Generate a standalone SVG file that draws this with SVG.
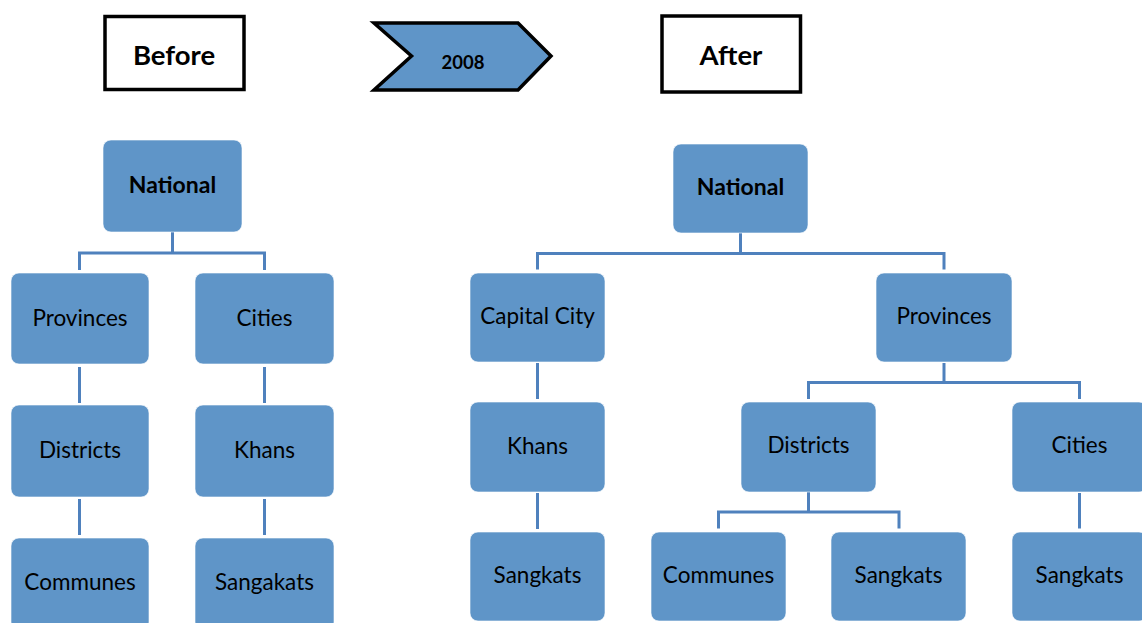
<svg xmlns="http://www.w3.org/2000/svg" width="1142" height="623" viewBox="0 0 1142 623">
  <style>
    .node { fill: #5f95c8; stroke: #ffffff; stroke-opacity: 0.6; stroke-width: 1; }
    .lbl { font-family: Lato, "Open Sans", "Liberation Sans", sans-serif; font-size: 22.5px; fill: #000000; text-anchor: middle; }
    .bold { font-weight: bold; font-size: 23px; }
    .frame { fill: #ffffff; stroke: #000000; stroke-width: 3.5; }
    .head { font-family: Lato, "Open Sans", "Liberation Sans", sans-serif; font-size: 27.5px; font-weight: bold; fill: #000000; text-anchor: middle; }
    .conn { fill: none; stroke: #4f81bd; stroke-width: 3; }
  </style>

  <!-- headings -->
  <g id="before">
    <rect class="frame" x="105" y="16.5" width="139" height="73"/>
    <text class="head" x="174" y="65">Before</text>
  </g>
  <g id="year">
    <polygon points="374,23 518,23 551,56 518,90 374,90 411.5,56" fill="#5f95c8" stroke="#000000" stroke-width="3.5" stroke-linejoin="miter"/>
    <text class="head" x="463" y="69" style="font-size:18.5px">2008</text>
  </g>
  <g id="after">
    <rect class="frame" x="662" y="16" width="138.5" height="76"/>
    <text class="head" x="731" y="65">After</text>
  </g>

  <!-- connectors -->
  <g id="connectors" class="conn">
    <!-- left tree -->
    <path d="M172.5 232 V253"/>
    <path d="M79.5 270 V253 H264.5 V270"/>
    <path d="M79.5 367 V403"/>
    <path d="M79.5 499 V535"/>
    <path d="M264.5 367 V403"/>
    <path d="M264.5 499 V535"/>
    <!-- right tree -->
    <path d="M740.5 233 V253.5"/>
    <path d="M537.5 269.5 V253.5 H944 V269.5"/>
    <path d="M537.5 363 V399"/>
    <path d="M537.5 493 V529"/>
    <path d="M944 363 V382.5"/>
    <path d="M808.5 399 V382.5 H1079.5 V399"/>
    <path d="M808.5 492 V512"/>
    <path d="M718.5 528.5 V512 H899 V528.5"/>
    <path d="M1079.5 493 V528.5"/>
  </g>

  <!-- left tree nodes -->
  <g id="l-national"><rect class="node" x="103" y="140" width="139" height="92" rx="8"/><text class="lbl bold" x="172.5" y="193">National</text></g>
  <g id="l-provinces"><rect class="node" x="11" y="273" width="138" height="91" rx="8"/><text class="lbl" x="80" y="326">Provinces</text></g>
  <g id="l-cities"><rect class="node" x="195" y="273" width="139" height="91" rx="8"/><text class="lbl" x="264.5" y="326">Cities</text></g>
  <g id="l-districts"><rect class="node" x="11" y="405" width="138" height="92" rx="8"/><text class="lbl" x="80" y="458">Districts</text></g>
  <g id="l-khans"><rect class="node" x="195" y="405" width="139" height="92" rx="8"/><text class="lbl" x="264.5" y="458">Khans</text></g>
  <g id="l-communes"><rect class="node" x="11" y="538" width="138" height="92" rx="8"/><text class="lbl" x="80" y="590">Communes</text></g>
  <g id="l-sangakats"><rect class="node" x="195" y="538" width="139" height="92" rx="8"/><text class="lbl" x="264.5" y="590">Sangakats</text></g>

  <!-- right tree nodes -->
  <g id="r-national"><rect class="node" x="673" y="144" width="135" height="89" rx="8"/><text class="lbl bold" x="740.5" y="195">National</text></g>
  <g id="r-capital"><rect class="node" x="470" y="273" width="135" height="89" rx="8"/><text class="lbl" x="537.5" y="324">Capital City</text></g>
  <g id="r-provinces"><rect class="node" x="876" y="273" width="136" height="89" rx="8"/><text class="lbl" x="944" y="324">Provinces</text></g>
  <g id="r-khans"><rect class="node" x="470" y="402" width="135" height="90" rx="8"/><text class="lbl" x="537.5" y="454">Khans</text></g>
  <g id="r-districts"><rect class="node" x="741" y="402" width="135" height="90" rx="8"/><text class="lbl" x="808.5" y="453">Districts</text></g>
  <g id="r-cities"><rect class="node" x="1012" y="402" width="135" height="90" rx="8"/><text class="lbl" x="1079.5" y="453">Cities</text></g>
  <g id="r-sangkats1"><rect class="node" x="470" y="532" width="135" height="89" rx="8"/><text class="lbl" x="537.5" y="583">Sangkats</text></g>
  <g id="r-communes"><rect class="node" x="651" y="532" width="135" height="89" rx="8"/><text class="lbl" x="718.5" y="583">Communes</text></g>
  <g id="r-sangkats2"><rect class="node" x="831" y="532" width="135" height="89" rx="8"/><text class="lbl" x="898.5" y="583">Sangkats</text></g>
  <g id="r-sangkats3"><rect class="node" x="1012" y="532" width="135" height="89" rx="8"/><text class="lbl" x="1079.5" y="583">Sangkats</text></g>
</svg>
